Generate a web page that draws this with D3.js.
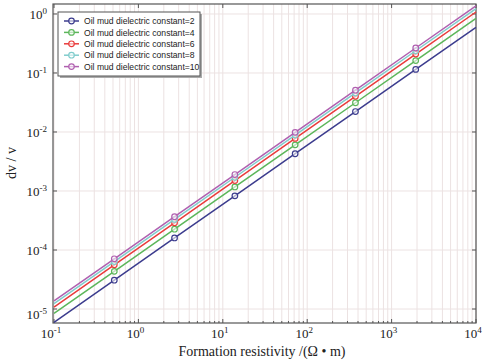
<!DOCTYPE html>
<html>
<head>
<meta charset="utf-8">
<script src="https://cdn.jsdelivr.net/npm/d3@7"></script>
<style>
  body { margin: 0; background: #fff; }
  svg { display: block; }
</style>
</head>
<body>
<div id="chart"></div>
<script>
var width = 488,
    height = 360;

// resistivity samples (ohm.m); markers only on the inner points
var resistivity = [0.1, 0.518, 2.68, 13.9, 72, 373, 1931, 10000];
var markerIdx = [1, 2, 3, 4, 5, 6];

var eps2  = [5.95e-6, 3.08e-5, 1.60e-4, 8.27e-4, 4.28e-3, 2.22e-2, 0.115, 0.595];
var eps4  = [8.4e-6, 4.35e-5, 2.25e-4, 1.17e-3, 6.05e-3, 3.13e-2, 0.162, 0.84];
var eps6  = [1.08e-5, 5.6e-5, 2.89e-4, 1.50e-3, 7.78e-3, 4.03e-2, 0.209, 1.08];
var eps8  = [1.23e-5, 6.37e-5, 3.30e-4, 1.71e-3, 8.86e-3, 4.59e-2, 0.238, 1.23];
var eps10 = [1.37e-5, 7.1e-5, 3.67e-4, 1.90e-3, 9.86e-3, 5.11e-2, 0.265, 1.37];

var seriesNames = ["Oil mud dielectric constant=2", "Oil mud dielectric constant=4",
                   "Oil mud dielectric constant=6", "Oil mud dielectric constant=8",
                   "Oil mud dielectric constant=10"];
var seriesValues = [eps2, eps4, eps6, eps8, eps10];
var colors = ["#3c3c8e", "#5cb65a", "#e93b3b", "#80cccc", "#b060b0"];

var xTickExp = [-1, 0, 1, 2, 3, 4];
var yTickExp = [-5, -4, -3, -2, -1, 0];

var pLeft = 53, pRight = 476, pTop = 4, pBottom = 323;

var svg = d3.select("#chart").append("svg")
    .attr("width", width)
    .attr("height", height);

var x = d3.scaleLog().domain([0.1, 1e4]).range([54, pRight]);
var y = d3.scaleLog().domain([Math.pow(10, -5.237), Math.pow(10, 0.169)]).range([pBottom, pTop]);

// minor + major x positions
var xAll = [];
for (var e = -1; e < 4; e++) {
    for (var m = 1; m < 10; m++) xAll.push(m * Math.pow(10, e));
}
xAll.push(1e4);

// grid
svg.append("g").selectAll("line")
    .data(xAll)
    .enter().append("line")
    .attr("x1", function(d) { return x(d); })
    .attr("x2", function(d) { return x(d); })
    .attr("y1", pTop)
    .attr("y2", pBottom)
    .style("stroke", "#ece2e2")
    .style("stroke-width", 1);

svg.append("g").selectAll("line")
    .data(yTickExp)
    .enter().append("line")
    .attr("x1", pLeft)
    .attr("x2", pRight)
    .attr("y1", function(d) { return y(Math.pow(10, d)); })
    .attr("y2", function(d) { return y(Math.pow(10, d)); })
    .style("stroke", "#ece2e2")
    .style("stroke-width", 1);

// axis box
svg.append("rect")
    .attr("x", pLeft)
    .attr("y", pTop)
    .attr("width", pRight - pLeft)
    .attr("height", pBottom - pTop)
    .style("fill", "none")
    .style("stroke", "#555")
    .style("stroke-width", 1.2);

// ticks
var tg = svg.append("g").style("stroke", "#555").style("stroke-width", 1);
xAll.forEach(function(d) {
    var major = Math.abs(Math.log10(d) - Math.round(Math.log10(d))) < 1e-9;
    var len = major ? 4 : 2;
    tg.append("line").attr("x1", x(d)).attr("x2", x(d)).attr("y1", pBottom).attr("y2", pBottom - len);
    if (major) tg.append("line").attr("x1", x(d)).attr("x2", x(d)).attr("y1", pTop).attr("y2", pTop + len);
});
yTickExp.forEach(function(d) {
    var py = y(Math.pow(10, d));
    tg.append("line").attr("x1", pLeft).attr("x2", pLeft + 4).attr("y1", py).attr("y2", py);
    tg.append("line").attr("x1", pRight).attr("x2", pRight - 4).attr("y1", py).attr("y2", py);
});

// tick labels
var serif = "'Liberation Serif', 'Times New Roman', serif";
xTickExp.forEach(function(d) {
    var t = svg.append("text")
        .attr("x", x(Math.pow(10, d)) - 3)
        .attr("y", 338)
        .attr("text-anchor", "middle")
        .style("font-family", serif)
        .style("font-size", "13px")
        .style("fill", "#222");
    t.append("tspan").text("10");
    t.append("tspan").attr("dy", -5).style("font-size", "9px").text(d);
});
yTickExp.forEach(function(d) {
    var t = svg.append("text")
        .attr("x", 47)
        .attr("y", y(Math.pow(10, d)) + (d === -5 ? 10 : 5))
        .attr("text-anchor", "end")
        .style("font-family", serif)
        .style("font-size", "13px")
        .style("fill", "#222");
    t.append("tspan").text("10");
    t.append("tspan").attr("dy", -5).style("font-size", "9px").text(d);
});

// axis titles
svg.append("text")
    .attr("x", 262)
    .attr("y", 356)
    .attr("text-anchor", "middle")
    .style("font-family", serif)
    .style("font-size", "14px")
    .style("fill", "#222")
    .text("Formation resistivity /(\u03A9 \u2022 m)");

svg.append("text")
    .attr("transform", "translate(16,163) rotate(-90)")
    .attr("text-anchor", "middle")
    .style("font-family", serif)
    .style("font-size", "14px")
    .style("fill", "#222")
    .text("dv / v");

// series
var line = d3.line()
    .x(function(d) { return x(d[0]); })
    .y(function(d) { return y(d[1]); });

seriesValues.forEach(function(vals, i) {
    var pts = resistivity.map(function(r, j) { return [r, vals[j]]; });
    svg.append("path")
        .datum(pts)
        .attr("d", line)
        .style("fill", "none")
        .style("stroke", colors[i])
        .style("stroke-width", 1.5);
    svg.append("g").selectAll("circle")
        .data(markerIdx.map(function(j) { return pts[j]; }))
        .enter().append("circle")
        .attr("cx", function(d) { return x(d[0]); })
        .attr("cy", function(d) { return y(d[1]); })
        .attr("r", 2.8)
        .style("fill", "#fff")
        .style("fill-opacity", 0.6)
        .style("stroke", colors[i])
        .style("stroke-width", 1.2);
});

// legend
var lg = svg.append("g");
lg.append("rect")
    .attr("x", 60).attr("y", 14).attr("width", 142).attr("height", 64)
    .style("fill", "#aaa");
lg.append("rect")
    .attr("x", 58).attr("y", 12).attr("width", 142).attr("height", 64)
    .style("fill", "#fff")
    .style("stroke", "#555")
    .style("stroke-width", 1);

seriesNames.forEach(function(name, i) {
    var ly = 21 + i * 11.4;
    lg.append("line")
        .attr("x1", 64).attr("x2", 79).attr("y1", ly).attr("y2", ly)
        .style("stroke", colors[i]).style("stroke-width", 1.5);
    lg.append("circle")
        .attr("cx", 71.5).attr("cy", ly).attr("r", 2.8)
        .style("fill", "#fff").style("fill-opacity", 0.6)
        .style("stroke", colors[i]).style("stroke-width", 1.2);
    lg.append("text")
        .attr("x", 84)
        .attr("y", ly + 3.2)
        .style("font-family", "'Liberation Sans', Arial, sans-serif")
        .style("font-size", "8.6px")
        .style("fill", "#222")
        .text(name);
});
</script>
</body>
</html>
